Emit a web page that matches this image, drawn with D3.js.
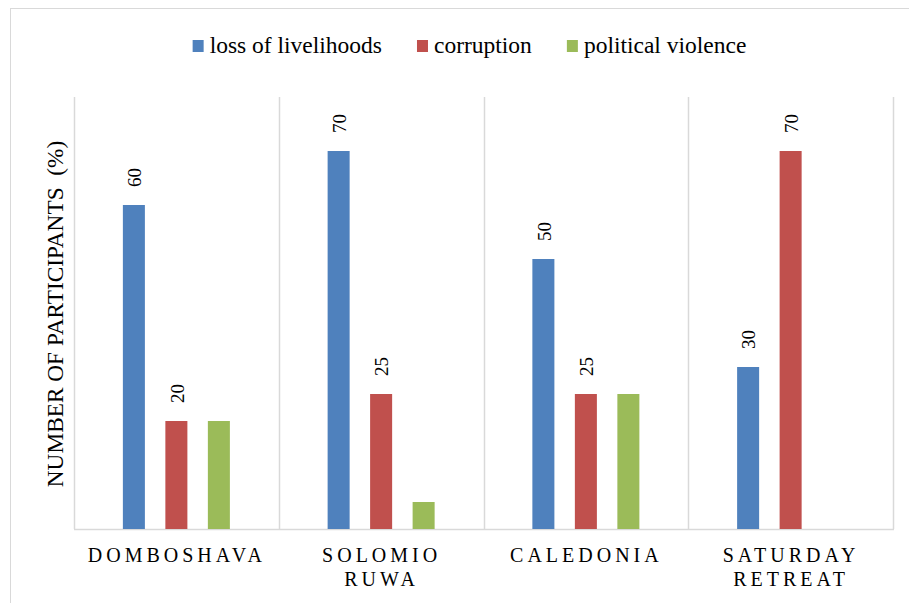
<!DOCTYPE html>
<html>
<head>
<meta charset="utf-8">
<script src="https://cdn.jsdelivr.net/npm/d3@7"></script>
<style>
  html, body { margin: 0; padding: 0; background: #fff; }
  svg { display: block; }
  svg text { font-family: "Liberation Serif", "DejaVu Serif", serif; fill: #000; }
</style>
</head>
<body>
<svg id="chart" width="909" height="603"></svg>
<script>
// ---- data ----
const categories = [["DOMBOSHAVA"], ["SOLOMIO", "RUWA"], ["CALEDONIA"], ["SATURDAY", "RETREAT"]];
const seriesNames = ["loss of livelihoods", "corruption", "political violence"];
const lossOfLivelihoods = [60, 70, 50, 30];
const corruption = [20, 25, 25, 70];
const politicalViolence = [20, 5, 25, 0];
const showLabels = [true, true, false];
const yTitle = "NUMBER OF PARTICIPANTS  (%)";
const colors = ["#4F81BD", "#C0504D", "#9BBB59"];

const seriesValues = [lossOfLivelihoods, corruption, politicalViolence];
const catKeys = categories.map(c => c.join(" "));
const FONT = "'Liberation Serif', 'DejaVu Serif', serif";

const svg = d3.select("#chart");

// outer border
svg.append("rect").attr("x", 10.5).attr("y", 8.5).attr("width", 1000).attr("height", 1000)
  .attr("fill", "none").attr("stroke", "#D9D9D9").attr("stroke-width", 1);

const plot = { left: 74, right: 893, top: 97, bottom: 529 };

const x0 = d3.scaleBand().domain(catKeys).range([plot.left, plot.right]).padding(0);
const x1 = d3.scaleBand().domain(seriesNames).range([0, x0.bandwidth()])
  .paddingInner(0.482).paddingOuter(1.15);
const y = d3.scaleLinear().domain([0, 80]).range([plot.bottom, plot.top]);

// separators
const bounds = catKeys.map(k => x0(k)).concat([plot.right]);
svg.append("g").selectAll("line").data(bounds).join("line")
  .attr("x1", d => Math.round(d) + 0.5).attr("x2", d => Math.round(d) + 0.5)
  .attr("y1", plot.top).attr("y2", plot.bottom)
  .attr("stroke", "#D9D9D9").attr("stroke-width", 1.5);
svg.append("line").attr("x1", plot.left).attr("x2", plot.right + 1)
  .attr("y1", plot.bottom + 0.5).attr("y2", plot.bottom + 0.5)
  .attr("stroke", "#D9D9D9").attr("stroke-width", 1.5);

// bars
const barData = [];
catKeys.forEach((k, i) => {
  seriesNames.forEach((s, j) => {
    barData.push({ cat: k, series: s, si: j, value: seriesValues[j][i] });
  });
});
svg.append("g").selectAll("rect").data(barData.filter(d => d.value > 0)).join("rect")
  .attr("x", d => x0(d.cat) + x1(d.series))
  .attr("y", d => y(d.value))
  .attr("width", x1.bandwidth())
  .attr("height", d => y(0) - y(d.value))
  .attr("fill", d => colors[d.si]);

// value labels
svg.append("g").selectAll("text").data(barData.filter(d => d.value > 0 && showLabels[d.si])).join("text")
  .attr("transform", d => {
    const cx = x0(d.cat) + x1(d.series) + x1.bandwidth() / 2 + 0.5;
    return `translate(${cx},${y(d.value) - 18}) rotate(-90)`;
  })
  .attr("dy", "0.35em")
  .attr("font-family", FONT)
  .attr("font-size", 19)
  .text(d => d.value);

// category labels
const catG = svg.append("g");
categories.forEach((lines, i) => {
  const cx = x0(catKeys[i]) + x0.bandwidth() / 2;
  lines.forEach((ln, li) => {
    catG.append("text")
      .attr("x", cx + 0.5).attr("y", 562 + li * 24)
      .attr("text-anchor", "middle")
      .attr("font-family", FONT)
      .attr("font-size", 20)
      .attr("letter-spacing", "4px")
      .text(ln);
  });
});

// y title
svg.append("text")
  .attr("transform", "translate(63,314) rotate(-90)")
  .attr("text-anchor", "middle")
  .attr("font-family", FONT)
  .attr("font-size", 23.3)
  .style("white-space", "pre")
  .text(yTitle);

// legend
const leg = svg.append("g");
const items = seriesNames.map((s, i) => {
  const g = leg.append("g");
  g.append("rect").attr("x", 0).attr("y", 40).attr("width", 11).attr("height", 12).attr("fill", colors[i]);
  const t = g.append("text").attr("x", 17).attr("y", 53)
    .attr("font-family", FONT).attr("font-size", 23.5).text(s);
  return { g, w: 17 + t.node().getComputedTextLength() };
});
const gap = 35;
const total = d3.sum(items, d => d.w) + gap * (items.length - 1);
let cx = 469.5 - total / 2;
items.forEach(it => { it.g.attr("transform", `translate(${cx},0)`); cx += it.w + gap; });
</script>
</body>
</html>
